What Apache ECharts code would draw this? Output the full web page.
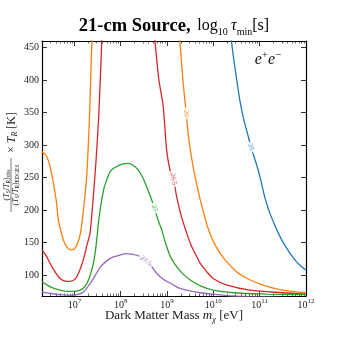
<!DOCTYPE html>
<html lang="en">
<head>
<meta charset="UTF-8">
<title>21-cm Source</title>
<script src="https://cdn.jsdelivr.net/npm/echarts@6/dist/echarts.min.js"></script>
<style>
    html, body { margin: 0; padding: 0; background: #fff; }
    #chart { width: 340px; height: 340px; }
</style>
</head>
<body>
<div id="chart"></div>
<script type="text/javascript">
    // x = log10(m / eV), y = value on the axis
    var blueX = [10.381, 10.392, 10.442, 10.506, 10.571, 10.657, 10.743, 10.830, 10.937, 11.024, 11.099, 11.196, 11.325, 11.455, 11.606, 11.756, 11.886, 12.0];
    var blueY = [475, 460, 431, 400, 369, 339, 316, 293, 269, 246, 223, 200, 177, 157, 139, 124, 114, 108];

    var orangeX1 = [6.301, 6.405, 6.476, 6.541, 6.606, 6.655, 6.713, 6.778, 6.853, 6.929, 6.994, 7.058, 7.123, 7.166, 7.220, 7.267, 7.306, 7.338, 7.375, 7.39];
    var orangeY1 = [290, 282, 266, 244, 216, 185, 167, 151, 142, 139, 140, 147, 162, 182, 216, 254, 308, 369, 453, 475];
    var orangeX2 = [9.265, 9.278, 9.343, 9.407, 9.472, 9.558, 9.666, 9.774, 9.882, 10.033, 10.248, 10.507, 10.787, 11.110, 11.498, 12.0];
    var orangeY2 = [475, 460, 400, 354, 308, 269, 231, 200, 173, 147, 124, 105, 93, 84, 77, 73];

    var redX1 = [6.301, 6.390, 6.476, 6.584, 6.692, 6.800, 6.907, 7.015, 7.101, 7.194, 7.274, 7.338, 7.403, 7.468, 7.532, 7.591, 7.60];
    var redY1 = [139, 130, 118, 105, 95, 91, 90.5, 94, 105, 124, 147, 165, 216, 277, 354, 460, 475];
    var redX2 = [8.715, 8.739, 8.825, 8.918, 8.991, 9.063, 9.134, 9.207, 9.300, 9.422, 9.526, 9.638, 9.709, 9.838, 9.996, 10.284, 10.787, 11.504, 12.0];
    var redY2 = [475, 460, 400, 359, 293, 262, 250, 221, 193, 165, 145, 129, 119, 107, 95, 85, 77, 73, 71];

    var greenX = [6.301, 6.433, 6.547, 6.692, 6.836, 6.972, 7.123, 7.209, 7.274, 7.338, 7.409, 7.457, 7.489, 7.532, 7.591, 7.640, 7.698, 7.769, 7.841, 7.942, 8.050, 8.164, 8.265, 8.379, 8.470, 8.560, 8.653, 8.739, 8.815, 8.884, 8.991, 9.084, 9.207, 9.343, 9.494, 9.709, 9.996, 10.427, 11.147, 12.0];
    var greenY = [90, 84, 80, 77, 75, 75, 77, 81, 88, 99, 118, 139, 159, 188, 216, 234, 246, 259, 264, 268, 271, 272, 269, 262, 251, 236, 219, 200, 183, 170, 144, 127, 113, 102, 93, 84, 77, 73, 71, 70];

    var purpleX = [6.301, 6.476, 6.692, 6.929, 7.080, 7.209, 7.338, 7.446, 7.554, 7.698, 7.841, 7.985, 8.114, 8.244, 8.373, 8.502, 8.631, 8.776, 8.912, 9.063, 9.235, 9.422, 9.709, 10.033, 10.420, 10.787, 11.433, 12.0];
    var purpleY = [74, 72, 70, 69, 70.5, 75, 87, 99, 112, 122, 128, 131, 133, 132, 130, 125, 117, 103, 94, 88, 81, 77, 73, 70.5, 68, 67, 66, 65];

    // contour labels: text, position on the line, angle
    var labelText = ['25', '20', '26.5', '27', '27.5'];
    var labelX = [10.813, 9.414, 9.139, 8.725, 8.540];
    var labelY = [297, 349, 248, 203, 122];
    var labelAngle = [-75, -84, -80, -72, -38];

    var xMajor = [7, 8, 9, 10, 11, 12];
    var yMajor = [100, 150, 200, 250, 300, 350, 400, 450];
    var xMin = 6.301, xMax = 12, yMin = 68, yMax = 460;

    var colors = ['#1f77b4', '#ff7f0e', '#d62728', '#2ca02c', '#9467bd'];
    var SERIF = "'Liberation Serif', 'DejaVu Serif', serif";

    var xMinor = [];
    for (var n = 6; n < 12; n++) {
        for (var k = 2; k <= 9; k++) {
            var t = n + Math.log10(k);
            if (t > xMin + 0.005 && t < xMax) xMinor.push(t);
        }
    }

    function pairs(xs, ys) {
        var out = [];
        for (var i = 0; i < xs.length; i++) out.push([xs[i], ys[i]]);
        return out;
    }

    function curve(xs, ys, color) {
        return {
            type: 'line',
            data: pairs(xs, ys),
            smooth: 0.3,
            symbol: 'none',
            clip: true,
            lineStyle: {color: color, width: 1.3},
            z: 3
        };
    }

    var series = [
        curve(blueX, blueY, colors[0]),
        curve(orangeX1, orangeY1, colors[1]),
        curve(orangeX2, orangeY2, colors[1]),
        curve(redX1, redY1, colors[2]),
        curve(redX2, redY2, colors[2]),
        curve(greenX, greenY, colors[3]),
        curve(purpleX, purpleY, colors[4])
    ];
    for (var i = 0; i < labelText.length; i++) {
        series.push({
            type: 'scatter',
            data: [[labelX[i], labelY[i]]],
            symbol: 'rect',
            symbolSize: 1,
            itemStyle: {color: 'rgba(0,0,0,0)'},
            silent: true,
            z: 5,
            label: {
                show: true,
                position: 'inside',
                formatter: labelText[i],
                rotate: labelAngle[i],
                color: colors[i],
                fontFamily: SERIF,
                fontSize: 7,
                backgroundColor: '#fff',
                padding: [0, 2]
            }
        });
    }

    function xAxisDef(pos, minor) {
        return {
            type: 'value', min: xMin, max: xMax, position: pos,
            axisLine: {show: !minor, lineStyle: {color: '#000', width: 1.2}},
            axisTick: {show: true, inside: true, length: minor ? 2.5 : 5,
                customValues: minor ? xMinor : xMajor,
                lineStyle: {color: '#000', width: minor ? 0.6 : 0.8}},
            axisLabel: (pos === 'bottom' && !minor) ? {
                customValues: xMajor,
                margin: 2,
                formatter: function (v) { return '{b|10}{s|' + Math.round(v) + '}'; },
                rich: {
                    b: {fontFamily: SERIF, fontSize: 10, color: '#222', lineHeight: 14, verticalAlign: 'middle'},
                    s: {fontFamily: SERIF, fontSize: 7, color: '#222', lineHeight: 6, verticalAlign: 'top'}
                }
            } : {show: false},
            splitLine: {show: false}
        };
    }

    function yAxisDef(pos) {
        return {
            type: 'value', min: yMin, max: yMax, position: pos,
            axisLine: {show: true, lineStyle: {color: '#000', width: 1.2}},
            axisTick: {show: true, inside: true, length: 5, customValues: yMajor,
                lineStyle: {color: '#000', width: 0.8}},
            axisLabel: pos === 'left' ? {customValues: yMajor, margin: 3,
                fontFamily: SERIF, fontSize: 10, color: '#222'} : {show: false},
            splitLine: {show: false}
        };
    }

    var myChart = echarts.init(document.getElementById('chart'), null, {renderer: 'canvas'});
    var option = {
        animation: false,
        backgroundColor: '#fff',
        grid: {left: 42, right: 34, top: 41, bottom: 44, containLabel: false, outerBoundsMode: 'none'},
        xAxis: [xAxisDef('bottom', false), xAxisDef('bottom', true), xAxisDef('top', false), xAxisDef('top', true)],
        yAxis: [yAxisDef('left'), yAxisDef('right')],
        series: series,
        graphic: [
            {
                type: 'text', x: 174, y: 26, z: 10,
                style: {
                    text: '{b|21-cm Source,}  {n|log}{s|10} {i|τ}{s|min}{n|[s]}',
                    align: 'center', verticalAlign: 'middle',
                    rich: {
                        b: {fontFamily: SERIF, fontSize: 18.5, fontWeight: 'bold', fill: '#000', lineHeight: 22, verticalAlign: 'middle'},
                        n: {fontFamily: SERIF, fontSize: 16, fill: '#000', lineHeight: 22, verticalAlign: 'middle'},
                        i: {fontFamily: SERIF, fontSize: 16, fontStyle: 'italic', fill: '#000', lineHeight: 22, verticalAlign: 'middle'},
                        s: {fontFamily: SERIF, fontSize: 10, fill: '#000', lineHeight: 12, verticalAlign: 'bottom'}
                    }
                }
            },
            {
                type: 'text', x: 174, y: 316, z: 10,
                style: {
                    text: '{n|Dark Matter Mass }{i|m}{s|χ}{n| [eV]}',
                    align: 'center', verticalAlign: 'middle',
                    rich: {
                        n: {fontFamily: SERIF, fontSize: 13, fill: '#222', lineHeight: 16, verticalAlign: 'middle'},
                        i: {fontFamily: SERIF, fontSize: 13, fontStyle: 'italic', fill: '#222', lineHeight: 16, verticalAlign: 'middle'},
                        s: {fontFamily: SERIF, fontSize: 8.5, fontStyle: 'italic', fill: '#222', lineHeight: 9, verticalAlign: 'bottom'}
                    }
                }
            },
            {
                type: 'text', x: 268, y: 60, z: 10,
                style: {
                    text: '{i|e}{s|+}{i|e}{s|−}',
                    align: 'center', verticalAlign: 'middle',
                    rich: {
                        i: {fontFamily: SERIF, fontSize: 16, fontStyle: 'italic', fill: '#111', lineHeight: 20, verticalAlign: 'middle'},
                        s: {fontFamily: SERIF, fontSize: 11, fill: '#111', lineHeight: 11, verticalAlign: 'top'}
                    }
                }
            },
            {
                type: 'group', x: 11, y: 166, rotation: Math.PI / 2, z: 10,
                children: [
                    {
                        type: 'text', x: -19, y: -4.5,
                        style: {
                            text: '{n|(}{i|T}{s|S}{n|/}{i|T}{s|R}{n|)}{s|obs}',
                            align: 'center', verticalAlign: 'middle',
                            rich: {
                                n: {fontFamily: SERIF, fontSize: 8, fill: '#222', lineHeight: 10, verticalAlign: 'middle'},
                                i: {fontFamily: SERIF, fontSize: 8, fontStyle: 'italic', fill: '#222', lineHeight: 10, verticalAlign: 'middle'},
                                s: {fontFamily: SERIF, fontSize: 5.5, fill: '#222', lineHeight: 6, verticalAlign: 'bottom'}
                            }
                        }
                    },
                    {
                        type: 'line',
                        shape: {x1: -46, y1: 0, x2: 8, y2: 0},
                        style: {stroke: '#222', lineWidth: 0.6}
                    },
                    {
                        type: 'text', x: -19, y: 5,
                        style: {
                            text: '{n|(}{i|T}{s|S}{n|/}{i|T}{s|R}{n|)}{s|EDGES}',
                            align: 'center', verticalAlign: 'middle',
                            rich: {
                                n: {fontFamily: SERIF, fontSize: 8, fill: '#222', lineHeight: 10, verticalAlign: 'middle'},
                                i: {fontFamily: SERIF, fontSize: 8, fontStyle: 'italic', fill: '#222', lineHeight: 10, verticalAlign: 'middle'},
                                s: {fontFamily: SERIF, fontSize: 5.5, fill: '#222', lineHeight: 6, verticalAlign: 'bottom'}
                            }
                        }
                    },
                    {
                        type: 'text', x: 13, y: 1,
                        style: {
                            text: '{n|× }{i|T}{s|R}{n| [K]}',
                            align: 'left', verticalAlign: 'middle',
                            rich: {
                                n: {fontFamily: SERIF, fontSize: 12, fill: '#222', lineHeight: 14, verticalAlign: 'middle'},
                                i: {fontFamily: SERIF, fontSize: 12, fontStyle: 'italic', fill: '#222', lineHeight: 14, verticalAlign: 'middle'},
                                s: {fontFamily: SERIF, fontSize: 8, fontStyle: 'italic', fill: '#222', lineHeight: 8, verticalAlign: 'bottom'}
                            }
                        }
                    }
                ]
            }
        ]
    };
    myChart.setOption(option);
</script>
</body>
</html>
